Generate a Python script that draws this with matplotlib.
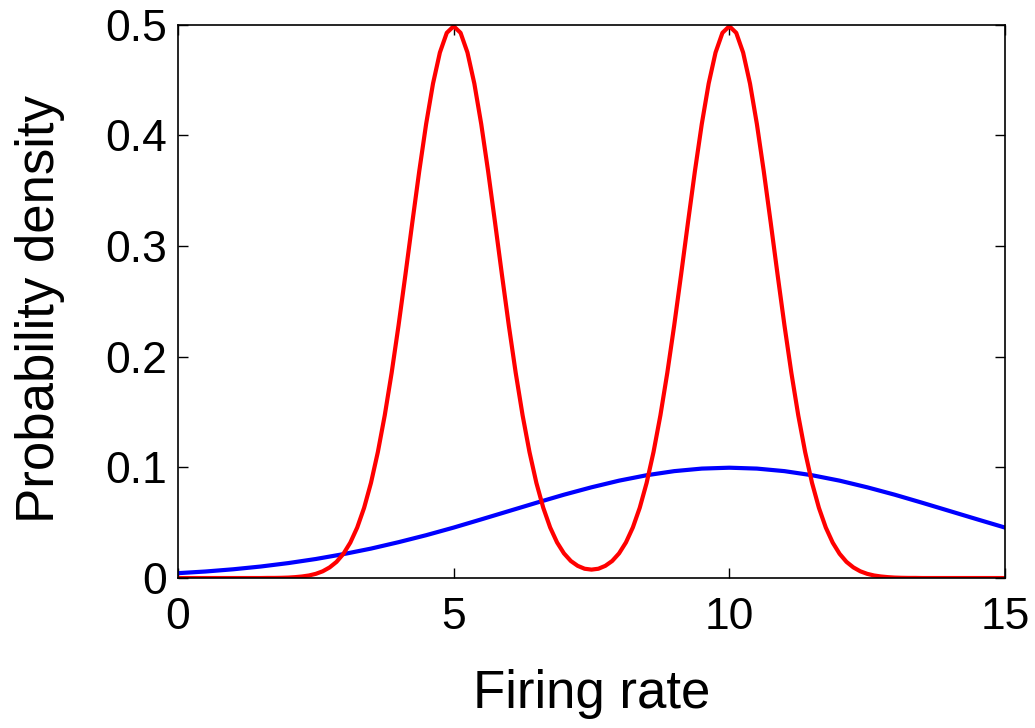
import matplotlib
matplotlib.use("Agg")
import matplotlib.pyplot as plt

# firing rate sample points and densities
rate_red = [i * 0.125 for i in range(121)]
density_red = [
    0, 0, 0, 0, 0, 0, 0, 0, 0, 0, 0, 0, 0,
    0.0001, 0.0001, 0.0002, 0.0004, 0.0008, 0.0014, 0.0023, 0.0038,
    0.0061, 0.0096, 0.0146, 0.0219, 0.0320, 0.0456, 0.0634, 0.0860,
    0.1139, 0.1471, 0.1855, 0.2283, 0.2742, 0.3214, 0.3675, 0.4102,
    0.4468, 0.4749, 0.4927, 0.4987,
    0.4927, 0.4749, 0.4468, 0.4102, 0.3675, 0.3214, 0.2742, 0.2283,
    0.1855, 0.1471, 0.1139, 0.0860, 0.0635, 0.0457, 0.0322, 0.0223,
    0.0154, 0.0110, 0.0084, 0.0076,
    0.0084, 0.0110, 0.0154, 0.0223, 0.0322, 0.0457, 0.0635, 0.0860,
    0.1139, 0.1471, 0.1855, 0.2283, 0.2742, 0.3214, 0.3675, 0.4102,
    0.4468, 0.4749, 0.4927, 0.4987,
    0.4927, 0.4749, 0.4468, 0.4102, 0.3675, 0.3214, 0.2742, 0.2283,
    0.1855, 0.1471, 0.1139, 0.0860, 0.0634, 0.0456, 0.0320, 0.0219,
    0.0146, 0.0096, 0.0061, 0.0038, 0.0023, 0.0014, 0.0008, 0.0004,
    0.0002, 0.0001, 0.0001,
    0, 0, 0, 0, 0, 0, 0, 0, 0, 0, 0, 0, 0,
]

rate_blue = [i * 0.5 for i in range(31)]
density_blue = [
    0.0044, 0.0059, 0.0079, 0.0104, 0.0135, 0.0172, 0.0216, 0.0266,
    0.0324, 0.0387, 0.0456, 0.0530, 0.0605, 0.0680, 0.0753, 0.0820,
    0.0880, 0.0929, 0.0966, 0.0989, 0.0997, 0.0989, 0.0966, 0.0929,
    0.0880, 0.0820, 0.0753, 0.0680, 0.0605, 0.0530, 0.0456,
]

xticks = [0, 5, 10, 15]
yticks = [0, 0.1, 0.2, 0.3, 0.4, 0.5]
yticklabels = ["0", "0.1", "0.2", "0.3", "0.4", "0.5"]

plt.rcParams["font.family"] = ["Liberation Sans", "DejaVu Sans"]

fig = plt.figure(figsize=(10.35, 7.28), dpi=100)
ax = fig.add_axes([0.172, 0.206, 0.799, 0.76])

ax.plot(rate_blue, density_blue, color="#0000ff", lw=3)
ax.plot(rate_red, density_red, color="#ff0000", lw=3)

ax.set_xlim(0, 15)
ax.set_ylim(0, 0.5)
ax.set_xticks(xticks)
ax.set_yticks(yticks)
ax.set_yticklabels(yticklabels)
ax.tick_params(direction="in", top=True, right=True, length=7, width=1,
               labelsize=32)
ax.tick_params(axis="y", pad=8)
ax.tick_params(axis="x", pad=14)
for s in ax.spines.values():
    s.set_linewidth(1.2)

ax.set_xlabel("Firing rate", fontsize=38, labelpad=22)
ax.set_ylabel("Probability density", fontsize=38)
ax.yaxis.set_label_coords(-0.137, 0.486)

fig.savefig("out.png", dpi=100)
